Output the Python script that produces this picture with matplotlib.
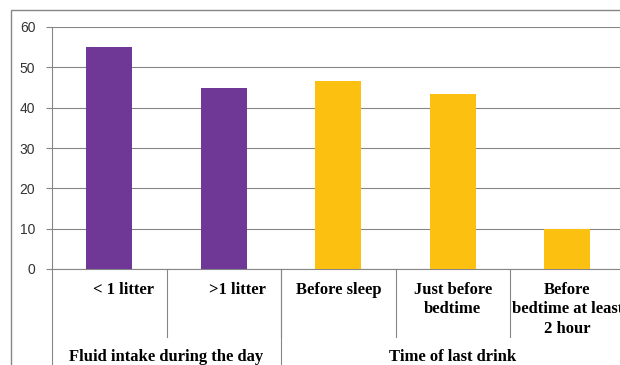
import matplotlib.pyplot as plt
from matplotlib.patches import Rectangle

# Data
categories = ['< 1 litter', '>1 litter', 'Before sleep', 'Just before\nbedtime',
              'Before\nbedtime at least\n2 hour']
values = [55, 45, 46.7, 43.3, 10]
groups = ['Fluid intake during the day', 'Time of last drink']
group_sizes = [2, 3]
group_colors = ['#6f3796', '#fcc010']

bar_colors = []
for c, n in zip(group_colors, group_sizes):
    bar_colors += [c] * n

grey = '#868686'
W, H = 620, 365

fig = plt.figure(figsize=(W / 100, H / 100), dpi=100)
ax = fig.add_axes([52 / W, 96 / H, 572.5 / W, 242 / H])

x = list(range(len(categories)))
ax.bar(x, values, width=0.4, color=bar_colors, zorder=3)

ax.set_xlim(-0.5, len(categories) - 0.5)
ax.set_ylim(0, 60)
ax.set_yticks(range(0, 61, 10))
ax.set_xticks([])
ax.yaxis.grid(True, color=grey, lw=0.8, zorder=0)
ax.tick_params(axis='y', length=4, width=0.8, color=grey, pad=8,
               labelsize=10, labelcolor='#333333')
for t in ax.get_yticklabels():
    t.set_fontfamily('Liberation Sans')
for s in ['top', 'right']:
    ax.spines[s].set_visible(False)
for s in ['left', 'bottom']:
    ax.spines[s].set_color(grey)
    ax.spines[s].set_linewidth(0.8)

tr = ax.get_xaxis_transform()
# category separators
for b in range(1, len(categories)):
    ax.plot([b - 0.5, b - 0.5], [0, -0.281], transform=tr, color=grey,
            lw=0.8, clip_on=False)
# group separators and left line down to bottom
start = 0
for n in group_sizes:
    ax.plot([start - 0.5, start - 0.5], [0, -0.5], transform=tr, color=grey,
            lw=0.8, clip_on=False)
    start += n

# category labels
offsets = [10, 10, 0, 0, 0]
for i, lab in enumerate(categories):
    ax.annotate(lab, xy=(i, 0), xycoords=tr, xytext=(offsets[i], -9),
                textcoords='offset points', ha='center', va='top',
                fontsize=12, fontweight='bold', family='Liberation Serif',
                linespacing=1.3, annotation_clip=False)

# group labels
start = 0
for g, n in zip(groups, group_sizes):
    mid = start - 0.5 + n / 2
    ax.annotate(g, xy=(mid, 0), xycoords=tr, xytext=(0, -63.5),
                textcoords='offset points', ha='center', va='center',
                fontsize=12, fontweight='bold', family='Liberation Serif',
                annotation_clip=False)
    start += n

# outer chart frame
fig.add_artist(Rectangle((11 / W, -0.1), 2, (H - 10) / H + 0.1, fill=False,
                         edgecolor=grey, lw=1, transform=fig.transFigure))

fig.savefig('out.png', dpi=100)
